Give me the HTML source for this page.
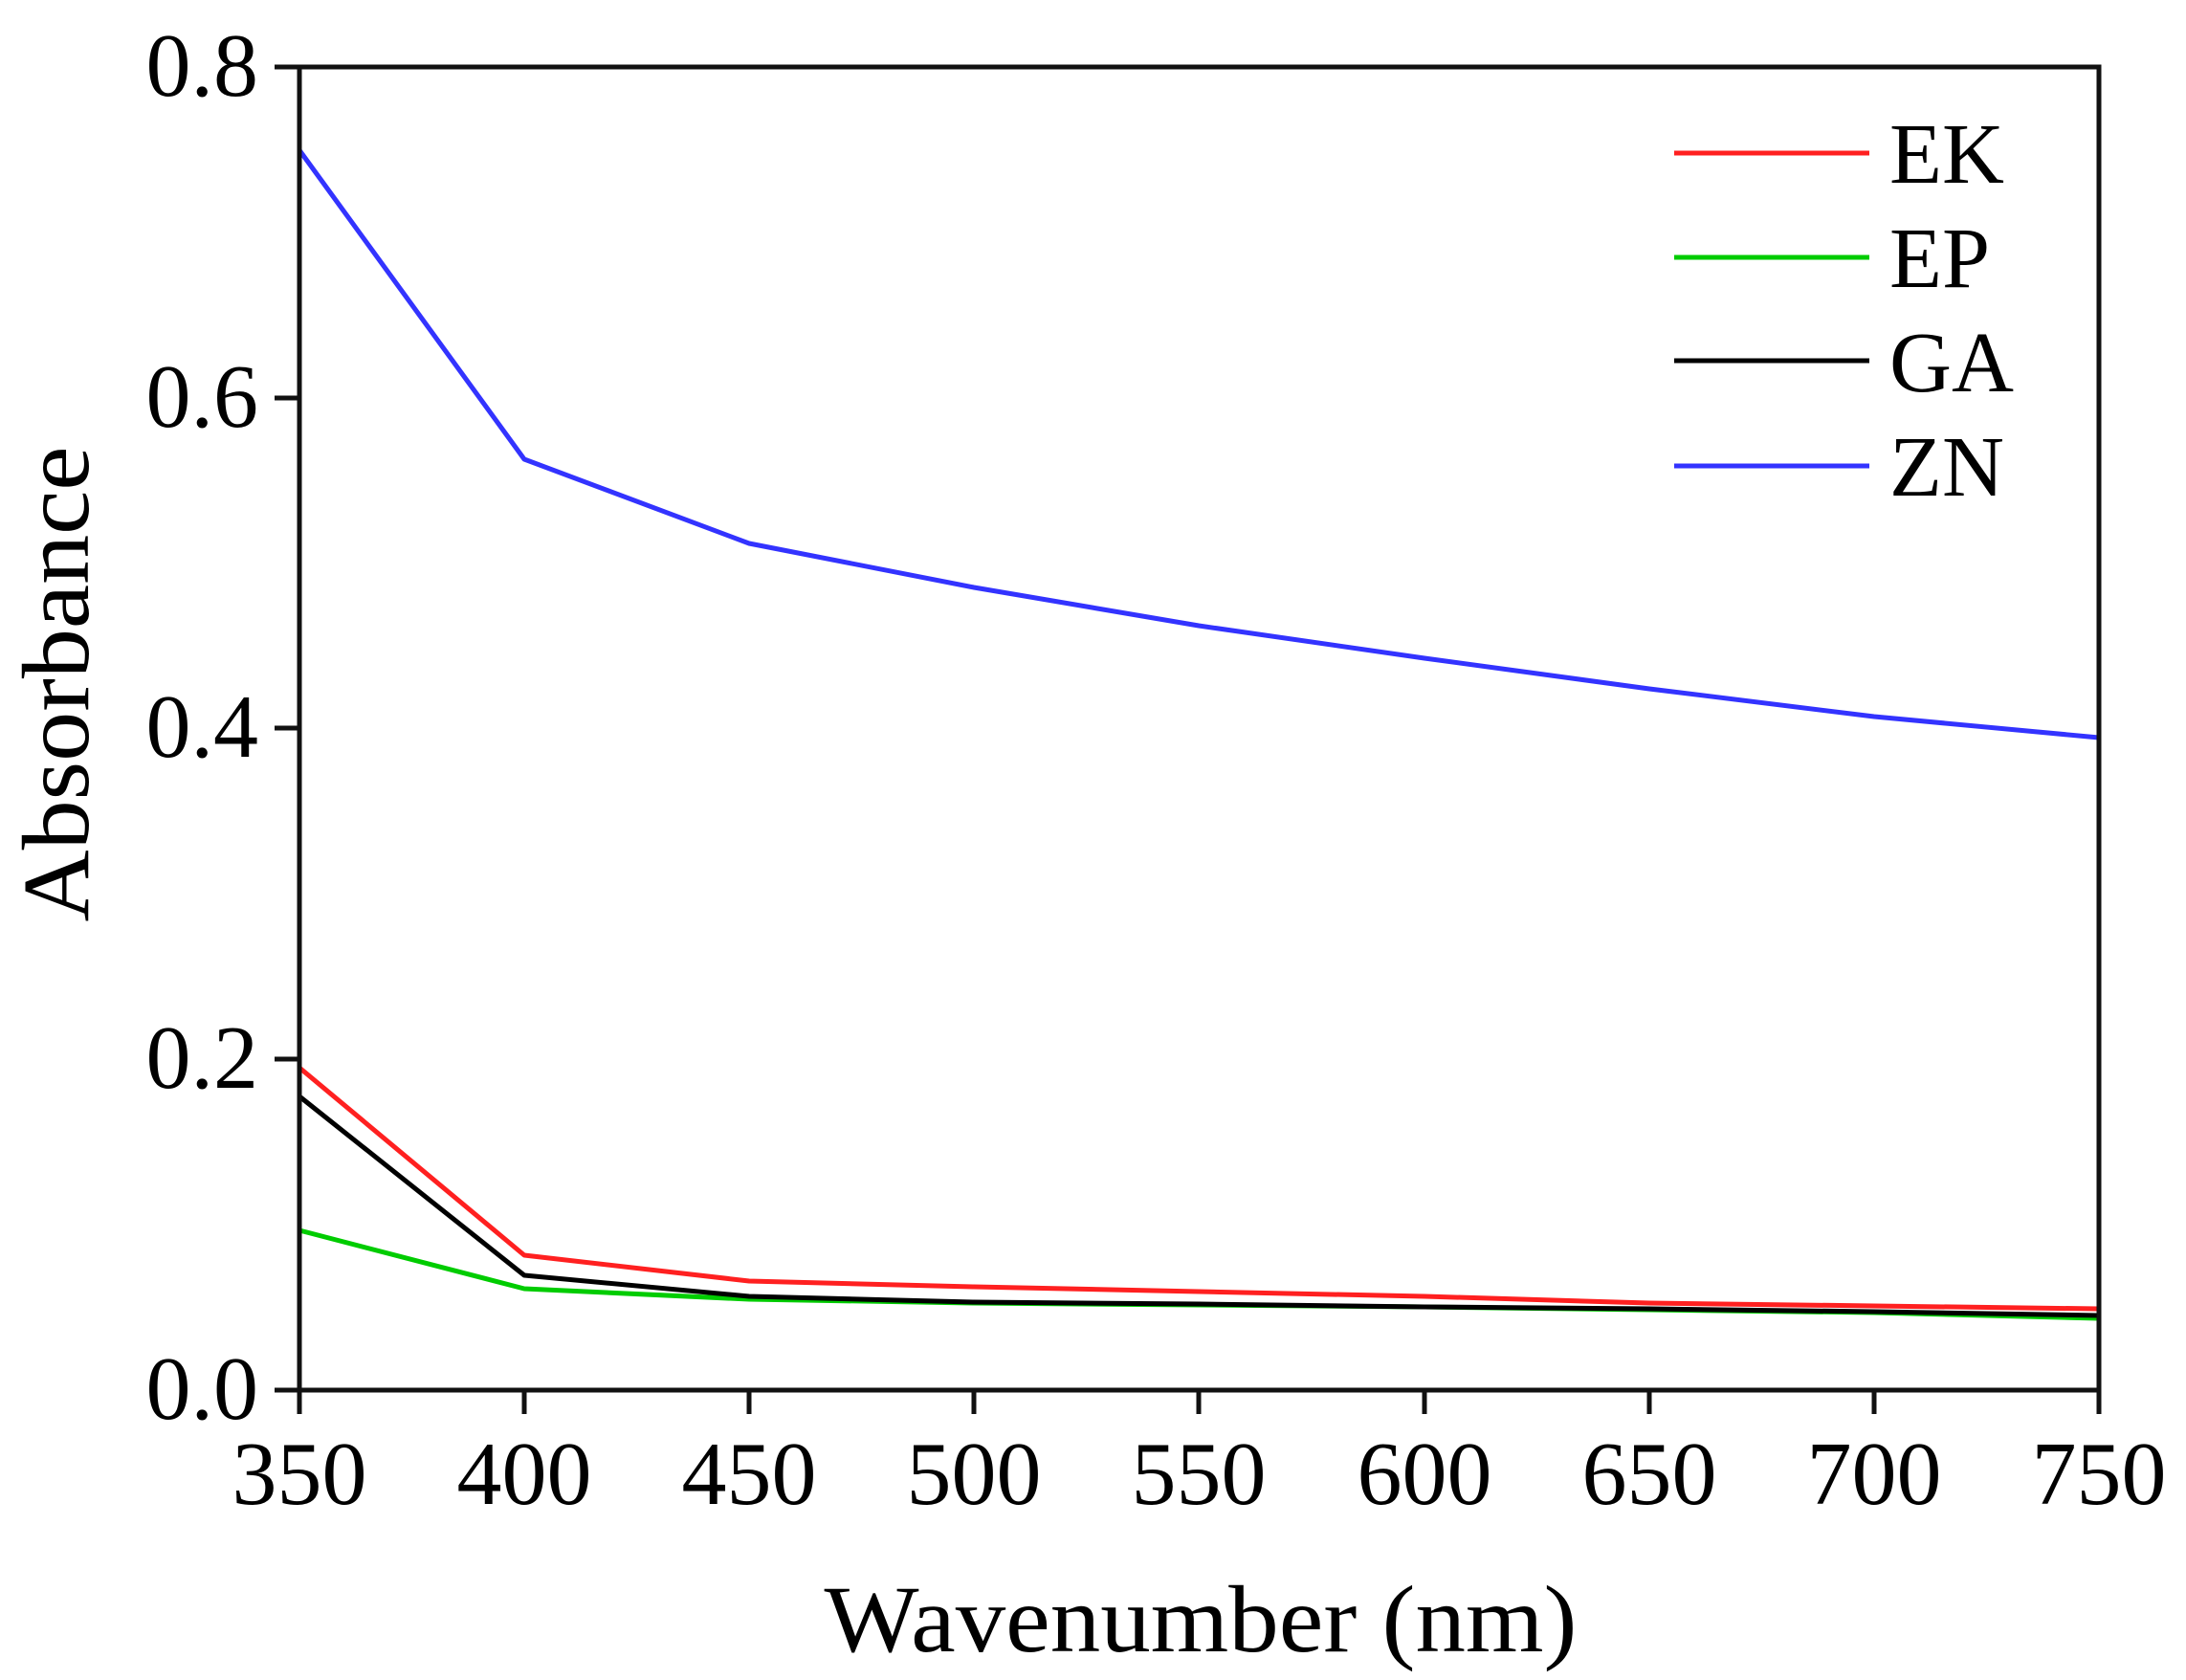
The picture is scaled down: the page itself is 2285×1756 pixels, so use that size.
<!DOCTYPE html>
<html><head><meta charset="utf-8"><style>html,body{margin:0;padding:0;background:#fff}svg{display:block}svg text{font-family:"Liberation Serif",serif}</style></head>
<body>
<svg width="2285" height="1756" viewBox="0 0 2285 1756" xmlns="http://www.w3.org/2000/svg" fill="#000">
<rect width="2285" height="1756" fill="#fff"/>
<g fill="none" stroke-width="5" stroke-linejoin="round">
<polyline stroke="#3333ff" points="313,157 548,480 783,568 1018,614 1253,654 1489,688 1724,720 1959,749 2194,771"/>
<polyline stroke="#00cc00" points="313,1286 548,1347 783,1358 1018,1362 1253,1364 1489,1366 1724,1369 1959,1372 2194,1378"/>
<polyline stroke="#000" points="313,1146 548,1333 783,1355 1018,1361 1253,1363 1489,1366 1724,1368 1959,1371 2194,1375"/>
<polyline stroke="#ff2020" points="313,1116 548,1312 783,1339 1018,1345 1253,1350 1489,1355 1724,1362 1959,1365 2194,1368"/>
</g>
<g stroke="#111" stroke-width="5" fill="none">
<rect x="313" y="70" width="1881" height="1383"/>
<line x1="287" y1="70" x2="313" y2="70"/>
<line x1="287" y1="416" x2="313" y2="416"/>
<line x1="287" y1="761" x2="313" y2="761"/>
<line x1="287" y1="1107" x2="313" y2="1107"/>
<line x1="287" y1="1453" x2="313" y2="1453"/>
<line x1="313" y1="1453" x2="313" y2="1478"/>
<line x1="548" y1="1453" x2="548" y2="1478"/>
<line x1="783" y1="1453" x2="783" y2="1478"/>
<line x1="1018" y1="1453" x2="1018" y2="1478"/>
<line x1="1253" y1="1453" x2="1253" y2="1478"/>
<line x1="1489" y1="1453" x2="1489" y2="1478"/>
<line x1="1724" y1="1453" x2="1724" y2="1478"/>
<line x1="1959" y1="1453" x2="1959" y2="1478"/>
<line x1="2194" y1="1453" x2="2194" y2="1478"/>
</g>
<g font-size="94" text-anchor="end">
<text x="270" y="100">0.8</text>
<text x="270" y="446">0.6</text>
<text x="270" y="791">0.4</text>
<text x="270" y="1137">0.2</text>
<text x="270" y="1483">0.0</text>
</g>
<g font-size="94" text-anchor="middle">
<text x="313" y="1572">350</text>
<text x="548" y="1572">400</text>
<text x="783" y="1572">450</text>
<text x="1018" y="1572">500</text>
<text x="1253" y="1572">550</text>
<text x="1489" y="1572">600</text>
<text x="1724" y="1572">650</text>
<text x="1959" y="1572">700</text>
<text x="2194" y="1572">750</text>
</g>
<text x="1255" y="1726" font-size="100" text-anchor="middle" textLength="787" lengthAdjust="spacingAndGlyphs">Wavenumber (nm)</text>
<text transform="translate(92,715) rotate(-90)" font-size="100" text-anchor="middle" textLength="497" lengthAdjust="spacingAndGlyphs">Absorbance</text>
<g stroke-width="5">
<line x1="1750" y1="160" x2="1954" y2="160" stroke="#ff2020"/>
<line x1="1750" y1="269" x2="1954" y2="269" stroke="#00cc00"/>
<line x1="1750" y1="377" x2="1954" y2="377" stroke="#000"/>
<line x1="1750" y1="487" x2="1954" y2="487" stroke="#3333ff"/>
</g>
<g font-size="90">
<text x="1975" y="191">EK</text>
<text x="1975" y="300">EP</text>
<text x="1975" y="409">GA</text>
<text x="1975" y="518">ZN</text>
</g>
</svg>
</body></html>
